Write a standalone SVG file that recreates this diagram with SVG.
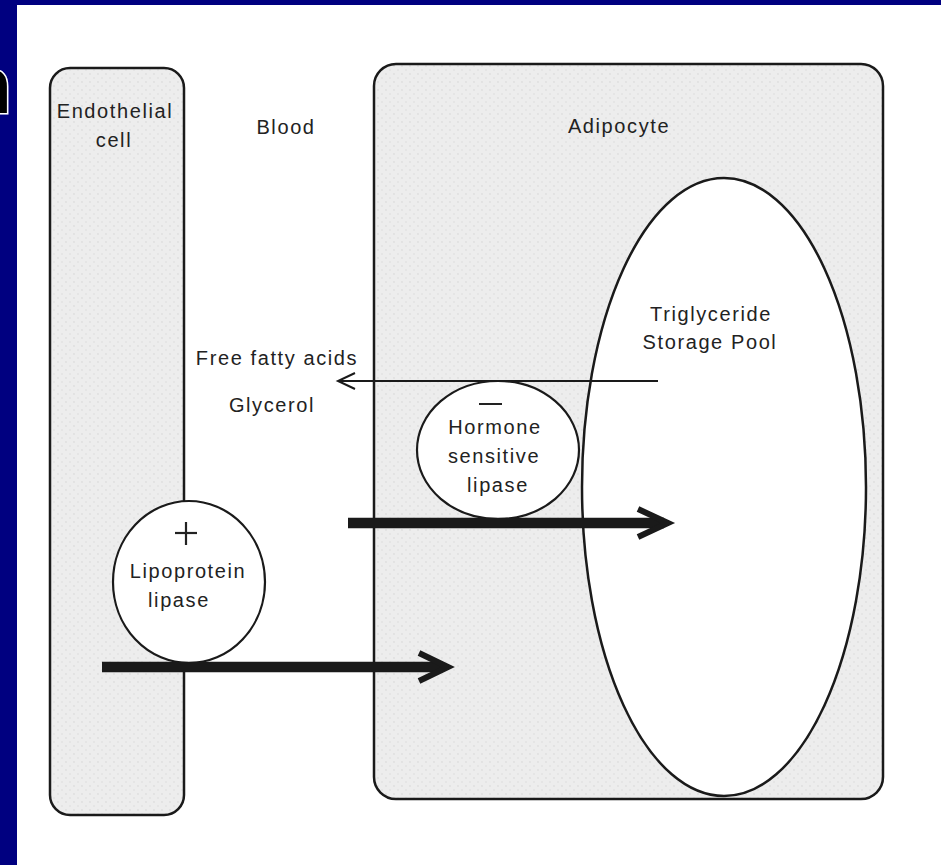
<svg xmlns="http://www.w3.org/2000/svg" width="941" height="865" viewBox="0 0 941 865">
  <defs>
    <style>
      .lbl { font-family: "Liberation Sans", Arial, Helvetica, sans-serif; font-size: 20px; letter-spacing: 1.6px; fill: #222; text-anchor: middle; }
      .cell { fill: #ececec; stroke: #1a1a1a; stroke-width: 2.5; }
      .enz { fill: #ffffff; stroke: #1a1a1a; stroke-width: 2.2; }
      .thin { stroke: #1a1a1a; stroke-width: 2; fill: none; }
      .thick { stroke: #1a1a1a; stroke-width: 10.5; fill: none; }
      .head { stroke: #1a1a1a; stroke-width: 6; fill: none; stroke-linejoin: miter; }
    </style>
    <pattern id="speck" width="8" height="8" patternUnits="userSpaceOnUse">
      <rect width="8" height="8" fill="#ededed"/>
      <circle cx="2" cy="2" r="0.9" fill="#dedede"/>
      <circle cx="6" cy="6" r="0.9" fill="#e2e2e2"/>
    </pattern>
  </defs>

  <!-- slide background -->
  <rect x="0" y="0" width="941" height="865" fill="#000080"/>
  <rect x="17" y="5" width="924" height="860" fill="#ffffff"/>
  <text x="-37" y="113" font-family="Liberation Sans, Arial, sans-serif" font-weight="bold" font-size="80" fill="#000" stroke="#fff" stroke-width="3" paint-order="stroke">n</text>

  <g id="endothelial-cell">
    <rect class="cell" x="50" y="68" width="134" height="747" rx="20" ry="20" style="fill:url(#speck)"/>
    <text class="lbl" x="115" y="118">Endothelial</text>
    <text class="lbl" x="114" y="147">cell</text>
  </g>

  <g id="blood">
    <text class="lbl" x="286" y="134">Blood</text>
    <text class="lbl" x="277" y="365">Free fatty acids</text>
    <text class="lbl" x="272" y="412">Glycerol</text>
  </g>

  <g id="adipocyte">
    <rect class="cell" x="374" y="64" width="509" height="735" rx="22" ry="22" style="fill:url(#speck)"/>
    <text class="lbl" x="619" y="133">Adipocyte</text>
  </g>

  <g id="triglyceride-pool">
    <ellipse cx="724" cy="487" rx="142" ry="309" fill="#ffffff" stroke="#1a1a1a" stroke-width="2.5"/>
    <text class="lbl" x="711" y="321">Triglyceride</text>
    <text class="lbl" x="710" y="349">Storage Pool</text>
  </g>

  <g id="connectors">
    <line class="thin" x1="658" y1="381" x2="338" y2="381"/>
    <polyline class="thin" points="355,373 338,381 355,389"/>
  </g>

  <g id="hormone-sensitive-lipase">
    <ellipse class="enz" cx="498" cy="450" rx="81" ry="69"/>
    <line x1="479" y1="404" x2="502" y2="404" stroke="#222" stroke-width="2"/>
    <text class="lbl" x="495" y="434">Hormone</text>
    <text class="lbl" x="494" y="463">sensitive</text>
    <text class="lbl" x="498" y="492">lipase</text>
  </g>

  <g id="lipoprotein-lipase">
    <ellipse class="enz" cx="189" cy="582" rx="76" ry="81"/>
    <line x1="175" y1="533" x2="197" y2="533" stroke="#222" stroke-width="2.2"/>
    <line x1="186" y1="522" x2="186" y2="545" stroke="#222" stroke-width="2.2"/>
    <text class="lbl" x="188" y="578">Lipoprotein</text>
    <text class="lbl" x="179" y="607">lipase</text>
  </g>

  <g id="thick-connectors">
    <line class="thick" x1="348" y1="523" x2="664" y2="523"/>
    <polyline class="head" points="638,509 668,523 638,537"/>
    <line class="thick" x1="102" y1="667" x2="443" y2="667"/>
    <polyline class="head" points="419,653 448,667 419,681"/>
  </g>
</svg>
